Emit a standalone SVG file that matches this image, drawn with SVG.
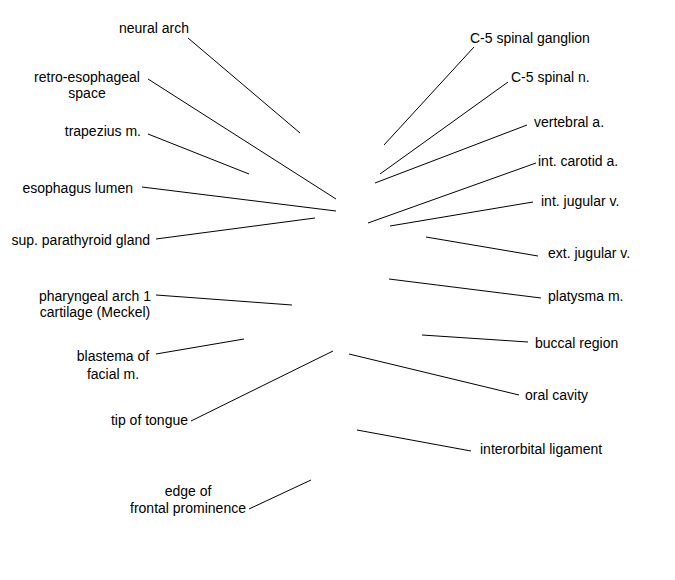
<svg xmlns="http://www.w3.org/2000/svg" width="675" height="580" viewBox="0 0 675 580">
<style>
text{font-family:"Liberation Sans",Arial,sans-serif;font-size:14px;fill:#000}
.e{text-anchor:end}
.m{text-anchor:middle}
.s{text-anchor:start}
#connectors line{stroke:#000;stroke-width:1;fill:none}
</style>
<rect width="675" height="580" fill="#fff"/>
<g id="connectors">
<line x1="188" y1="38" x2="300" y2="133"/>
<line x1="148" y1="79" x2="336" y2="199"/>
<line x1="148" y1="134" x2="249" y2="174"/>
<line x1="142" y1="187" x2="336" y2="211"/>
<line x1="156" y1="239" x2="315" y2="218"/>
<line x1="474" y1="47" x2="384" y2="145"/>
<line x1="508" y1="82" x2="380" y2="174"/>
<line x1="527" y1="125" x2="375" y2="183"/>
<line x1="536" y1="163" x2="368" y2="223"/>
<line x1="533" y1="202" x2="390" y2="226"/>
<line x1="426" y1="237" x2="538" y2="256"/>
<line x1="389" y1="279" x2="541" y2="298"/>
<line x1="422" y1="335" x2="528" y2="342"/>
<line x1="349" y1="354" x2="519" y2="395"/>
<line x1="357" y1="430" x2="471" y2="451"/>
<line x1="156" y1="295" x2="292" y2="305"/>
<line x1="156" y1="354" x2="244" y2="339"/>
<line x1="191" y1="421" x2="333" y2="351"/>
<line x1="249" y1="509" x2="311" y2="480"/>
</g>
<g id="neural-arch"><text class="e" x="189" y="33">neural arch</text></g>
<g id="retro-esophageal-space"><text class="m" x="87" y="82">retro-esophageal</text><text class="m" x="87" y="98">space</text></g>
<g id="trapezius"><text class="e" x="141" y="136">trapezius m.</text></g>
<g id="esophagus-lumen"><text class="e" x="133" y="193">esophagus lumen</text></g>
<g id="sup-parathyroid"><text class="e" x="150" y="245">sup. parathyroid gland</text></g>
<g id="pharyngeal-arch"><text class="m" x="95" y="301">pharyngeal arch 1</text><text class="m" x="95" y="317">cartilage (Meckel)</text></g>
<g id="blastema"><text class="m" x="113" y="361">blastema of</text><text class="m" x="113" y="379">facial m.</text></g>
<g id="tip-of-tongue"><text class="e" x="188" y="425">tip of tongue</text></g>
<g id="frontal-prominence"><text class="m" x="188" y="496">edge of</text><text class="m" x="188" y="513">frontal prominence</text></g>
<g id="c5-ganglion"><text class="s" x="470" y="43">C-5 spinal ganglion</text></g>
<g id="c5-nerve"><text class="s" x="511" y="82">C-5 spinal n.</text></g>
<g id="vertebral-a"><text class="s" x="534" y="127">vertebral a.</text></g>
<g id="int-carotid"><text class="s" x="538" y="166">int. carotid a.</text></g>
<g id="int-jugular"><text class="s" x="541" y="206">int. jugular v.</text></g>
<g id="ext-jugular"><text class="s" x="548" y="258">ext. jugular v.</text></g>
<g id="platysma"><text class="s" x="548" y="301">platysma m.</text></g>
<g id="buccal"><text class="s" x="535" y="348">buccal region</text></g>
<g id="oral-cavity"><text class="s" x="525" y="400">oral cavity</text></g>
<g id="interorbital"><text class="s" x="480" y="454">interorbital ligament</text></g>
</svg>
